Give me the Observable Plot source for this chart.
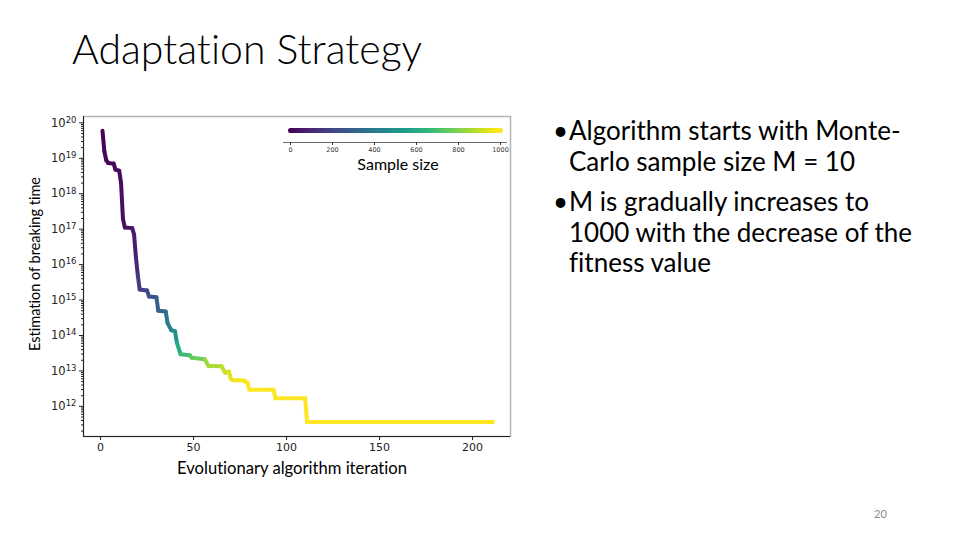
<!DOCTYPE html>
<html>
<head>
<meta charset="utf-8">
<script src="https://cdn.jsdelivr.net/npm/d3@7"></script>
<script src="https://cdn.jsdelivr.net/npm/@observablehq/plot@0.6"></script>
<style>
  html, body { margin: 0; padding: 0; background: #fff; }
  #page { position: relative; width: 960px; height: 540px; overflow: hidden; background: #fff; font-family: Lato, "Open Sans", sans-serif; color: #000; font-variant-ligatures: none; font-feature-settings: "liga" 0, "clig" 0; }
  .abs { position: absolute; white-space: nowrap; }
  #title { left: 72px; top: 24px; font-size: 41px; font-weight: 300; }
  #ylab { left: 34px; top: 264px; font-size: 14.5px; transform: translate(-50%, -50%) rotate(-90deg); }
  #xlab { left: 292px; top: 468px; font-size: 16.6px; transform: translate(-50%, -50%); }
  #cblab { left: 398px; top: 163px; font-size: 16px; transform: translate(-50%, -50%); }
  #bullets { left: 553px; top: 115px; font-size: 26px; line-height: 30.5px; }
  #bullets .item { position: relative; padding-left: 16px; margin-bottom: 10px; }
  #bullets .item::before { content: "•"; position: absolute; left: 0; top: 0; }
  #pnum { left: 874px; top: 507px; font-size: 11px; color: #8a8a8a; }
  #main { position: absolute; left: 0; top: 100px; }
  #cbar { position: absolute; left: 270px; top: 118px; }
</style>
</head>
<body>
<div id="page">
  <div id="title" class="abs">Adaptation Strategy</div>
  <div id="main"></div>
  <div id="cbar"></div>
  <div id="ylab" class="abs">Estimation of breaking time</div>
  <div id="xlab" class="abs">Evolutionary algorithm iteration</div>
  <div id="cblab" class="abs">Sample size</div>
  <div id="bullets" class="abs">
    <div class="item">Algorithm starts with Monte-<br>Carlo sample size M = 10</div>
    <div class="item">M is gradually increases to<br>1000 with the decrease of the<br>fitness value</div>
  </div>
  <div id="pnum" class="abs">20</div>
</div>
<script>
// ---- data ----
const iteration = [1, 2, 3, 4, 7, 8, 10, 11, 12, 13, 17, 18, 19, 20, 21, 25, 26, 30, 31, 35, 36, 38, 40, 41, 43, 48, 49, 56, 58, 65, 67, 69, 70, 71, 77, 79, 80, 93, 94, 110, 111, 211];
const logBreakingTime = [19.78, 19.2, 18.95, 18.87, 18.85, 18.68, 18.65, 18.3, 17.3, 17.05, 17.03, 16.85, 16.2, 15.7, 15.3, 15.27, 15.1, 15.08, 14.7, 14.68, 14.35, 14.15, 14.12, 13.8, 13.47, 13.44, 13.37, 13.33, 13.14, 13.13, 12.95, 12.98, 12.78, 12.74, 12.73, 12.66, 12.47, 12.47, 12.23, 12.23, 11.56, 11.56];
const sampleSize = [10, 10, 15, 15, 20, 25, 25, 30, 40, 45, 50, 60, 80, 110, 170, 190, 220, 240, 290, 320, 380, 420, 450, 500, 620, 680, 730, 770, 840, 870, 900, 920, 950, 960, 980, 990, 1000, 1000, 1000, 1000, 1000, 1000];
const xTicks = [0, 50, 100, 150, 200];
const yTickExponents = [12, 13, 14, 15, 16, 17, 18, 19, 20];
const colorbarTicks = [0, 200, 400, 600, 800, 1000];
const sampleSizeDomain = [0, 1000];

// ---- derived tables ----
const segments = iteration.slice(0, -1).map((x, i) => ({
  x1: x, y1: 10 ** logBreakingTime[i],
  x2: iteration[i + 1], y2: 10 ** logBreakingTime[i + 1],
  m: sampleSize[i + 1]
}));
const yMajor = yTickExponents.map(e => 10 ** e);
const yMinor = [];
for (let e = 11; e <= 20; e++) for (let k = 2; k <= 9; k++) {
  const v = k * 10 ** e;
  if (Math.log10(v) > 11.15 && Math.log10(v) < 20.18) yMinor.push(v);
}
const fmtPow = v => "10^" + Math.round(Math.log10(v));

const yLo = 10 ** 11.15, yHi = 10 ** 20.18;
const xLo = -9.2, xHi = 220.4;

const main = Plot.plot({
  width: 530, height: 380,
  marginLeft: 83, marginRight: 20, marginTop: 16, marginBottom: 44,
  x: {domain: [xLo, xHi]},
  y: {type: "log", domain: [yLo, yHi]},
  color: {type: "linear", scheme: "viridis", domain: sampleSizeDomain},
  style: {fontFamily: "DejaVu Sans", fontSize: "11px", background: "transparent", color: "#222"},
  marks: [
    Plot.frame({stroke: "#b4b4b4", strokeWidth: 1.5}),
    Plot.ruleX([{x: xLo}], {x: "x", stroke: "#222", strokeWidth: 1}),
    Plot.ruleY([{y: yLo}], {y: "y", stroke: "#222", strokeWidth: 1}),
    Plot.axisX({ticks: xTicks, tickSize: 4, tickPadding: 3, label: null, tickFormat: d => String(d)}),
    Plot.axisY({ticks: yMajor, tickSize: 4, tickPadding: 3, label: null, tickFormat: fmtPow, fontSize: 11.5}),
    Plot.axisY({ticks: yMinor, tickSize: 2, label: null, tickFormat: () => ""}),
    Plot.link(segments, {x1: "x1", y1: "y1", x2: "x2", y2: "y2", stroke: "m", strokeWidth: 4, strokeLinecap: "round", strokeLinejoin: "round"})
  ]
});
// render "10^n" tick labels with a raised exponent
main.querySelectorAll("text").forEach(t => {
  const s = t.textContent;
  const m = /^10\^(\d+)$/.exec(s);
  if (!m) return;
  const target = t.querySelector("tspan") || t;
  target.textContent = "10";
  const ns = "http://www.w3.org/2000/svg";
  const sp = document.createElementNS(ns, "tspan");
  sp.setAttribute("dy", "-0.45em");
  sp.setAttribute("font-size", "8.5");
  sp.textContent = m[1];
  target.appendChild(sp);
});
document.getElementById("main").appendChild(main);

// colorbar ramp
const rampStops = d3.range(sampleSizeDomain[0], sampleSizeDomain[1], 10);
const ramp = rampStops.map(v => ({x1: v, x2: v + 10, y: 0.667, m: v + 5}));
const cbar = Plot.plot({
  width: 250, height: 38,
  marginLeft: 20, marginRight: 20, marginTop: 6, marginBottom: 14,
  x: {domain: sampleSizeDomain},
  y: {domain: [0, 1], axis: null},
  color: {type: "linear", scheme: "viridis", domain: sampleSizeDomain},
  style: {fontFamily: "DejaVu Sans", fontSize: "6.5px", background: "transparent", color: "#333"},
  marks: [
    Plot.ruleY([{y: 0, x1: -33, x2: 1033}], {y: "y", x1: "x1", x2: "x2", stroke: "#444", strokeWidth: 0.8}),
    Plot.axisX({ticks: colorbarTicks, tickSize: 3, tickPadding: 2, label: null, tickFormat: d => String(d)}),
    Plot.link(ramp, {x1: "x1", x2: "x2", y1: "y", y2: "y", stroke: "m", strokeWidth: 5, strokeLinecap: "round"})
  ]
});
document.getElementById("cbar").appendChild(cbar);
</script>
</body>
</html>
